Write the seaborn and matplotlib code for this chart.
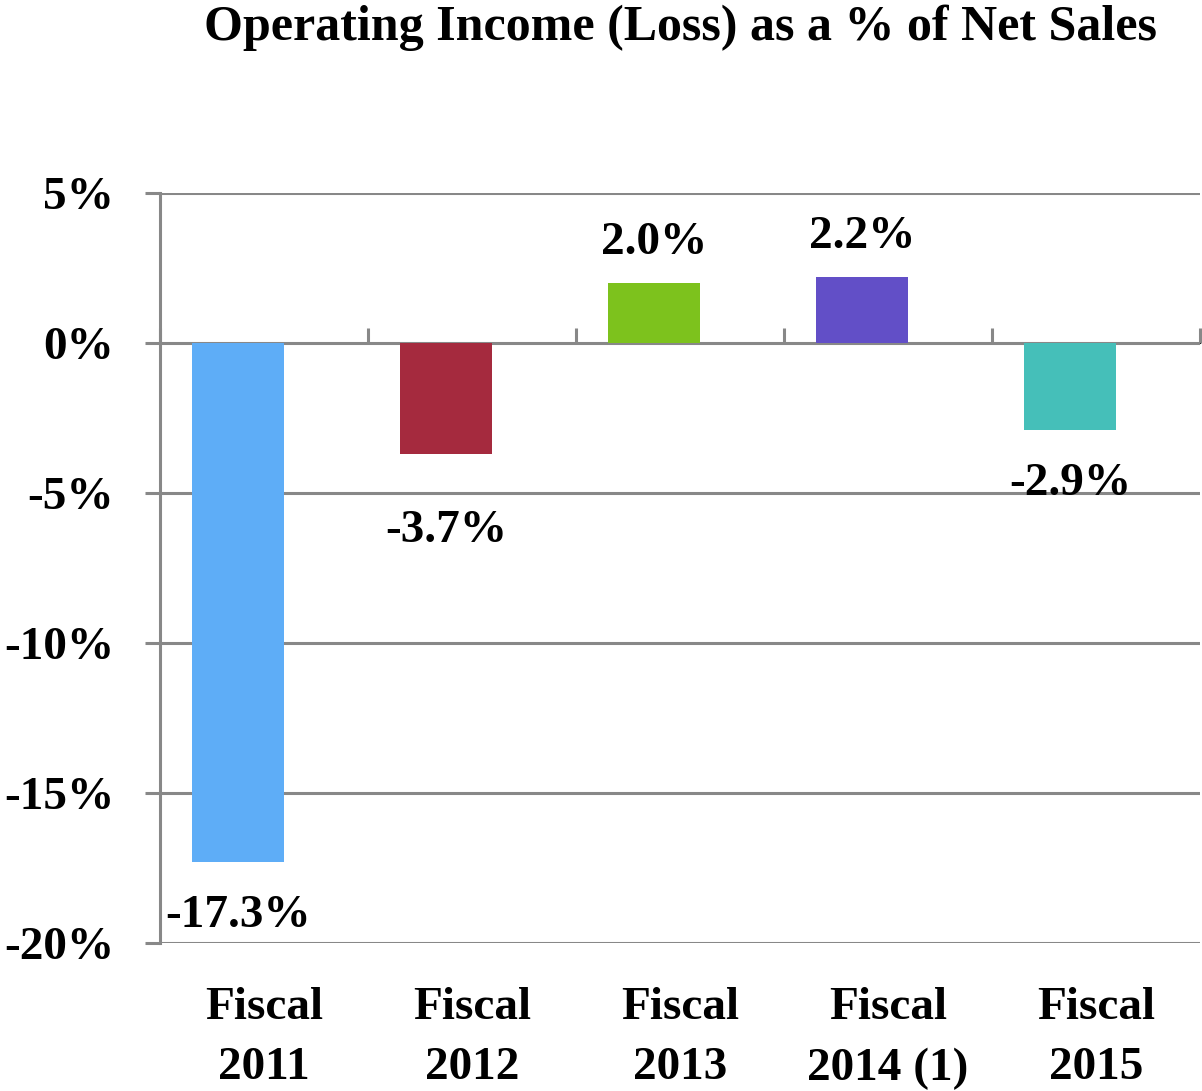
import matplotlib
matplotlib.use("Agg")
import matplotlib.pyplot as plt
import seaborn as sns
from matplotlib.ticker import FuncFormatter

# data
years = ["Fiscal\n2011", "Fiscal\n2012", "Fiscal\n2013", "Fiscal\n2014 (1)", "Fiscal\n2015"]
op_margin = [-17.3, -3.7, 2.0, 2.2, -2.9]
bar_colors = ["#5EADF7", "#A52A3E", "#7DC21D", "#624FC7", "#45BFB9"]

sns.set_style("white")
plt.rcParams["font.family"] = ["Liberation Serif", "DejaVu Serif"]
plt.rcParams["font.weight"] = "bold"
plt.rcParams["text.color"] = "black"

grid_col = "#888888"

fig = plt.figure(figsize=(12.02, 10.91), dpi=100)
ax = fig.add_axes([160 / 1202, 1 - 943 / 1091, 1040 / 1202, 750 / 1091])

sns.barplot(x=years, y=op_margin, hue=years, palette=bar_colors, saturation=1,
            width=0.44, linewidth=0, legend=False, ax=ax, zorder=3)

# bars sit a bit left of the category centre
for p in ax.patches:
    p.set_x(p.get_x() - 0.125)

ax.set_xlim(-0.5, 4.5)
ax.set_ylim(-20, 5)
ax.set_yticks(range(-20, 6, 5))
ax.yaxis.set_major_formatter(FuncFormatter(lambda v, _: f"{v:.0f}%"))
ax.yaxis.grid(True, color=grid_col, linewidth=2.2, zorder=1)
ax.set_axisbelow(True)

for s in ["top", "right", "bottom"]:
    ax.spines[s].set_visible(False)
ax.spines["left"].set_color(grid_col)
ax.spines["left"].set_linewidth(2.2)

ax.tick_params(axis="y", length=11, width=2.2, color=grid_col, pad=22,
               labelsize=34, left=True, labelcolor="black")
ax.tick_params(axis="x", length=0, pad=32, labelsize=34, labelcolor="black")
for t in ax.get_xticklabels():
    t.set_linespacing(1.55)

# tick marks on the zero line between categories
sec = ax.secondary_xaxis(0.8)
sec.set_xticks([i - 0.5 for i in range(6)])
sec.set_xticklabels([])
sec.tick_params(length=11, width=2.2, color=grid_col, direction="out")
sec.spines["bottom"].set_visible(False)

# value labels (Excel pushes the -3.7% label a little further down)
for i, (p, v) in enumerate(zip(ax.patches, op_margin)):
    xc = p.get_x() + p.get_width() / 2
    if v > 0:
        off = 14
    else:
        off = -40 if i == 1 else -24
    ax.annotate(f"{v:.1f}%", (xc, v), xytext=(0, off), textcoords="offset points",
                ha="center", va="bottom" if v > 0 else "top",
                fontsize=34, fontweight="bold", color="black")

fig.text(680 / 1202, 1 - 28 / 1091, "Operating Income (Loss) as a % of Net Sales",
         ha="center", va="center", fontsize=36, fontweight="bold", color="black")

ax.set_xlabel("")
ax.set_ylabel("")
fig.savefig("out.png", dpi=100)
